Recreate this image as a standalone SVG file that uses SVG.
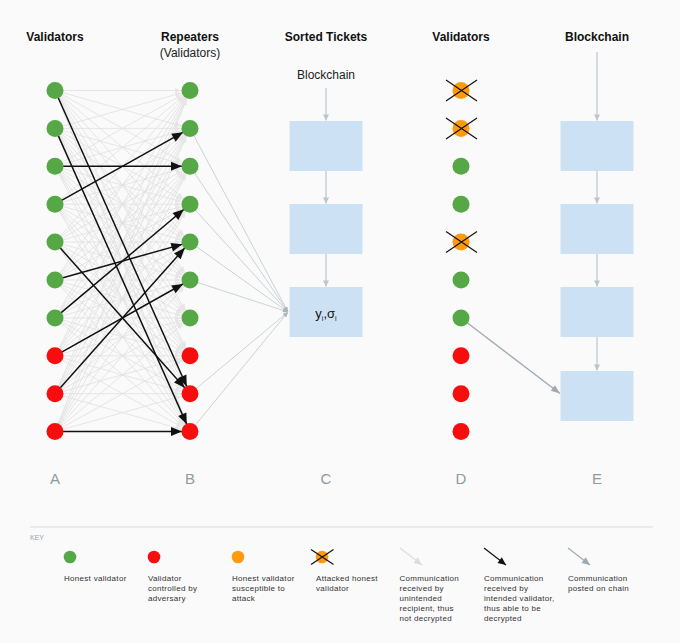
<svg xmlns="http://www.w3.org/2000/svg" width="680" height="643" viewBox="0 0 680 643">
<style>
text{font-family:"Liberation Sans",Arial,sans-serif}
.h{font-size:12px;font-weight:bold;fill:#111;text-anchor:middle}
.sub{font-size:12px;fill:#222;text-anchor:middle}
.lab{font-size:15px;fill:#8e9aa2;text-anchor:middle}
.k{font-size:8px;fill:#333;letter-spacing:0.3px}
.g{fill:#56a847}.r{fill:#f70d0d}.o{fill:#fd9a0e}
.box{fill:#cde1f4}
.mesh line{stroke:#e0e0e0;stroke-width:0.8;marker-end:url(#am)}
.blk line{stroke:#111;stroke-width:1.5;marker-end:url(#ab)}
.toc line{stroke:#bfc8cd;stroke-width:0.8;marker-end:url(#ac)}
.chain{stroke:#b8c6cf;stroke-width:1.2;marker-end:url(#ach)}
.x{stroke:#111;stroke-width:1.2}
</style>
<defs>
<marker id="am" markerUnits="userSpaceOnUse" markerWidth="6" markerHeight="5" refX="15" refY="2.5" orient="auto" overflow="visible"><path d="M0,0L6,2.5L0,5z" fill="#e6e6e6"/></marker>
<marker id="ab" markerUnits="userSpaceOnUse" markerWidth="11" markerHeight="9" refX="19" refY="4.5" orient="auto" overflow="visible"><path d="M0,0L11,4.5L0,9z" fill="#111"/></marker>
<marker id="ac" markerUnits="userSpaceOnUse" markerWidth="5" markerHeight="4" refX="5" refY="2" orient="auto" overflow="visible"><path d="M0,0L5,2L0,4z" fill="#aab5bb"/></marker>
<marker id="ach" markerUnits="userSpaceOnUse" markerWidth="6" markerHeight="6" refX="6" refY="3" orient="auto" overflow="visible"><path d="M0,0L6,3L0,6z" fill="#b8c6cf"/></marker>
<marker id="ad" markerUnits="userSpaceOnUse" markerWidth="9" markerHeight="7" refX="9" refY="3.5" orient="auto" overflow="visible"><path d="M0,0L9,3.5L0,7z" fill="#9eabb2"/></marker>
<marker id="kl" markerUnits="userSpaceOnUse" markerWidth="8" markerHeight="7" refX="8" refY="3.5" orient="auto" overflow="visible"><path d="M0,0L8,3.5L0,7z" fill="#dcdcdc"/></marker>
<marker id="kb" markerUnits="userSpaceOnUse" markerWidth="8" markerHeight="7" refX="8" refY="3.5" orient="auto" overflow="visible"><path d="M0,0L8,3.5L0,7z" fill="#111"/></marker>
<marker id="kg" markerUnits="userSpaceOnUse" markerWidth="8" markerHeight="7" refX="8" refY="3.5" orient="auto" overflow="visible"><path d="M0,0L8,3.5L0,7z" fill="#9eabb2"/></marker>
</defs>
<rect width="680" height="643" fill="#fafafa"/>

<g id="headers">
<text class="h" x="55" y="41">Validators</text>
<text class="h" x="190" y="41">Repeaters</text>
<text class="sub" x="190" y="57">(Validators)</text>
<text class="h" x="326" y="41">Sorted Tickets</text>
<text class="h" x="461" y="41">Validators</text>
<text class="h" x="597" y="41">Blockchain</text>
</g>

<g id="connectors">
<g class="mesh">
<line x1="55" y1="90.5" x2="190" y2="90.5"/><line x1="55" y1="90.5" x2="190" y2="128.4"/><line x1="55" y1="90.5" x2="190" y2="166.3"/><line x1="55" y1="90.5" x2="190" y2="204.2"/><line x1="55" y1="90.5" x2="190" y2="242.1"/><line x1="55" y1="90.5" x2="190" y2="280"/><line x1="55" y1="90.5" x2="190" y2="317.9"/><line x1="55" y1="90.5" x2="190" y2="355.8"/><line x1="55" y1="90.5" x2="190" y2="431.6"/>
<line x1="55" y1="128.4" x2="190" y2="90.5"/><line x1="55" y1="128.4" x2="190" y2="128.4"/><line x1="55" y1="128.4" x2="190" y2="166.3"/><line x1="55" y1="128.4" x2="190" y2="204.2"/><line x1="55" y1="128.4" x2="190" y2="242.1"/><line x1="55" y1="128.4" x2="190" y2="280"/><line x1="55" y1="128.4" x2="190" y2="317.9"/><line x1="55" y1="128.4" x2="190" y2="355.8"/><line x1="55" y1="128.4" x2="190" y2="393.7"/>
<line x1="55" y1="166.3" x2="190" y2="90.5"/><line x1="55" y1="166.3" x2="190" y2="128.4"/><line x1="55" y1="166.3" x2="190" y2="204.2"/><line x1="55" y1="166.3" x2="190" y2="242.1"/><line x1="55" y1="166.3" x2="190" y2="280"/><line x1="55" y1="166.3" x2="190" y2="317.9"/><line x1="55" y1="166.3" x2="190" y2="355.8"/><line x1="55" y1="166.3" x2="190" y2="393.7"/><line x1="55" y1="166.3" x2="190" y2="431.6"/>
<line x1="55" y1="204.2" x2="190" y2="90.5"/><line x1="55" y1="204.2" x2="190" y2="166.3"/><line x1="55" y1="204.2" x2="190" y2="204.2"/><line x1="55" y1="204.2" x2="190" y2="242.1"/><line x1="55" y1="204.2" x2="190" y2="280"/><line x1="55" y1="204.2" x2="190" y2="317.9"/><line x1="55" y1="204.2" x2="190" y2="355.8"/><line x1="55" y1="204.2" x2="190" y2="393.7"/><line x1="55" y1="204.2" x2="190" y2="431.6"/>
<line x1="55" y1="242.1" x2="190" y2="90.5"/><line x1="55" y1="242.1" x2="190" y2="128.4"/><line x1="55" y1="242.1" x2="190" y2="166.3"/><line x1="55" y1="242.1" x2="190" y2="204.2"/><line x1="55" y1="242.1" x2="190" y2="242.1"/><line x1="55" y1="242.1" x2="190" y2="280"/><line x1="55" y1="242.1" x2="190" y2="317.9"/><line x1="55" y1="242.1" x2="190" y2="355.8"/><line x1="55" y1="242.1" x2="190" y2="431.6"/>
<line x1="55" y1="280" x2="190" y2="90.5"/><line x1="55" y1="280" x2="190" y2="128.4"/><line x1="55" y1="280" x2="190" y2="166.3"/><line x1="55" y1="280" x2="190" y2="204.2"/><line x1="55" y1="280" x2="190" y2="280"/><line x1="55" y1="280" x2="190" y2="317.9"/><line x1="55" y1="280" x2="190" y2="355.8"/><line x1="55" y1="280" x2="190" y2="393.7"/><line x1="55" y1="280" x2="190" y2="431.6"/>
<line x1="55" y1="317.9" x2="190" y2="90.5"/><line x1="55" y1="317.9" x2="190" y2="128.4"/><line x1="55" y1="317.9" x2="190" y2="166.3"/><line x1="55" y1="317.9" x2="190" y2="242.1"/><line x1="55" y1="317.9" x2="190" y2="280"/><line x1="55" y1="317.9" x2="190" y2="317.9"/><line x1="55" y1="317.9" x2="190" y2="355.8"/><line x1="55" y1="317.9" x2="190" y2="393.7"/><line x1="55" y1="317.9" x2="190" y2="431.6"/>
<line x1="55" y1="355.8" x2="190" y2="90.5"/><line x1="55" y1="355.8" x2="190" y2="128.4"/><line x1="55" y1="355.8" x2="190" y2="166.3"/><line x1="55" y1="355.8" x2="190" y2="204.2"/><line x1="55" y1="355.8" x2="190" y2="242.1"/><line x1="55" y1="355.8" x2="190" y2="317.9"/><line x1="55" y1="355.8" x2="190" y2="355.8"/><line x1="55" y1="355.8" x2="190" y2="393.7"/><line x1="55" y1="355.8" x2="190" y2="431.6"/>
<line x1="55" y1="393.7" x2="190" y2="90.5"/><line x1="55" y1="393.7" x2="190" y2="128.4"/><line x1="55" y1="393.7" x2="190" y2="166.3"/><line x1="55" y1="393.7" x2="190" y2="204.2"/><line x1="55" y1="393.7" x2="190" y2="280"/><line x1="55" y1="393.7" x2="190" y2="317.9"/><line x1="55" y1="393.7" x2="190" y2="355.8"/><line x1="55" y1="393.7" x2="190" y2="393.7"/><line x1="55" y1="393.7" x2="190" y2="431.6"/>
<line x1="55" y1="431.6" x2="190" y2="90.5"/><line x1="55" y1="431.6" x2="190" y2="128.4"/><line x1="55" y1="431.6" x2="190" y2="166.3"/><line x1="55" y1="431.6" x2="190" y2="204.2"/><line x1="55" y1="431.6" x2="190" y2="242.1"/><line x1="55" y1="431.6" x2="190" y2="280"/><line x1="55" y1="431.6" x2="190" y2="317.9"/><line x1="55" y1="431.6" x2="190" y2="355.8"/><line x1="55" y1="431.6" x2="190" y2="393.7"/>
</g>
<g class="toc">
<line x1="190" y1="128.4" x2="288" y2="312"/><line x1="190" y1="166.3" x2="288" y2="312"/><line x1="190" y1="204.2" x2="288" y2="312"/><line x1="190" y1="242.1" x2="288" y2="312"/><line x1="190" y1="280" x2="288" y2="312"/><line x1="190" y1="393.7" x2="288" y2="312"/><line x1="190" y1="431.6" x2="288" y2="312"/>
</g>
<g class="blk">
<line x1="55" y1="90.5" x2="190" y2="393.7"/>
<line x1="55" y1="128.4" x2="190" y2="431.6"/>
<line x1="55" y1="166.3" x2="190" y2="166.3"/>
<line x1="55" y1="204.2" x2="190" y2="128.4"/>
<line x1="55" y1="242.1" x2="190" y2="393.7"/>
<line x1="55" y1="280" x2="190" y2="242.1"/>
<line x1="55" y1="317.9" x2="190" y2="204.2"/>
<line x1="55" y1="355.8" x2="190" y2="280"/>
<line x1="55" y1="393.7" x2="190" y2="242.1"/>
<line x1="55" y1="431.6" x2="190" y2="431.6"/>
</g>
<line class="chain" x1="326" y1="88" x2="326" y2="120.5"/>
<line class="chain" x1="326" y1="171" x2="326" y2="203.5"/>
<line class="chain" x1="326" y1="254" x2="326" y2="286.5"/>
<line class="chain" x1="597" y1="52" x2="597" y2="120.5"/>
<line class="chain" x1="597" y1="171" x2="597" y2="203.5"/>
<line class="chain" x1="597" y1="254" x2="597" y2="286.5"/>
<line class="chain" x1="597" y1="337" x2="597" y2="370.5"/>
<line x1="467.5" y1="323" x2="560" y2="393.5" stroke="#9eabb2" stroke-width="1.3" marker-end="url(#ad)"/>
</g>

<g id="colA">
<circle id="A1" class="g" cx="55" cy="90.5" r="8.5"/>
<circle id="A2" class="g" cx="55" cy="128.4" r="8.5"/>
<circle id="A3" class="g" cx="55" cy="166.3" r="8.5"/>
<circle id="A4" class="g" cx="55" cy="204.2" r="8.5"/>
<circle id="A5" class="g" cx="55" cy="242.1" r="8.5"/>
<circle id="A6" class="g" cx="55" cy="280" r="8.5"/>
<circle id="A7" class="g" cx="55" cy="317.9" r="8.5"/>
<circle id="A8" class="r" cx="55" cy="355.8" r="8.5"/>
<circle id="A9" class="r" cx="55" cy="393.7" r="8.5"/>
<circle id="A10" class="r" cx="55" cy="431.6" r="8.5"/>
</g>
<g id="colB">
<circle id="B1" class="g" cx="190" cy="90.5" r="8.5"/>
<circle id="B2" class="g" cx="190" cy="128.4" r="8.5"/>
<circle id="B3" class="g" cx="190" cy="166.3" r="8.5"/>
<circle id="B4" class="g" cx="190" cy="204.2" r="8.5"/>
<circle id="B5" class="g" cx="190" cy="242.1" r="8.5"/>
<circle id="B6" class="g" cx="190" cy="280" r="8.5"/>
<circle id="B7" class="g" cx="190" cy="317.9" r="8.5"/>
<circle id="B8" class="r" cx="190" cy="355.8" r="8.5"/>
<circle id="B9" class="r" cx="190" cy="393.7" r="8.5"/>
<circle id="B10" class="r" cx="190" cy="431.6" r="8.5"/>
</g>
<g id="colC">
<text class="sub" x="326" y="79">Blockchain</text>
<rect id="C1" class="box" x="289.5" y="121" width="73" height="50"/>
<rect id="C2" class="box" x="289.5" y="204" width="73" height="50"/>
<g id="C3"><rect class="box" x="289.5" y="287" width="73" height="50"/>
<text x="326" y="318" font-size="13" fill="#111" text-anchor="middle">y<tspan font-size="7" dy="2.5">i</tspan><tspan dy="-2.5">,σ</tspan><tspan font-size="7" dy="2.5">i</tspan></text></g>
</g>
<g id="colD">
<g id="D1"><circle class="o" cx="461" cy="90.5" r="8.5"/><path class="x" d="M446,80L477,101M446,101L477,80"/></g>
<g id="D2"><circle class="o" cx="461" cy="128.4" r="8.5"/><path class="x" d="M446,118L477,139M446,139L477,118"/></g>
<circle id="D3" class="g" cx="461" cy="166.3" r="8.5"/>
<circle id="D4" class="g" cx="461" cy="204.2" r="8.5"/>
<g id="D5"><circle class="o" cx="461" cy="242.1" r="8.5"/><path class="x" d="M446,231.6L477,252.6M446,252.6L477,231.6"/></g>
<circle id="D6" class="g" cx="461" cy="280" r="8.5"/>
<circle id="D7" class="g" cx="461" cy="317.9" r="8.5"/>
<circle id="D8" class="r" cx="461" cy="355.8" r="8.5"/>
<circle id="D9" class="r" cx="461" cy="393.7" r="8.5"/>
<circle id="D10" class="r" cx="461" cy="431.6" r="8.5"/>
</g>
<g id="colE">
<rect id="E1" class="box" x="560.5" y="121" width="73" height="50"/>
<rect id="E2" class="box" x="560.5" y="204" width="73" height="50"/>
<rect id="E3" class="box" x="560.5" y="287" width="73" height="50"/>
<rect id="E4" class="box" x="560.5" y="371" width="73" height="50"/>
</g>

<g id="labels">
<text class="lab" x="55" y="484">A</text>
<text class="lab" x="190" y="484">B</text>
<text class="lab" x="326" y="484">C</text>
<text class="lab" x="461" y="484">D</text>
<text class="lab" x="597" y="484">E</text>
</g>

<g id="key">
<line x1="30" y1="527" x2="653" y2="527" stroke="#e6e6e6" stroke-width="1.5"/>
<text x="30" y="540" font-size="7" fill="#9aa3a8">KEY</text>
<circle class="g" cx="70" cy="557" r="6.3"/>
<text class="k" x="64" y="580.5">Honest validator</text>
<circle class="r" cx="154" cy="557" r="6.3"/>
<text class="k" x="148" y="580.5">Validator<tspan x="148" dy="10">controlled by</tspan><tspan x="148" dy="10">adversary</tspan></text>
<circle class="o" cx="238" cy="557" r="6.3"/>
<text class="k" x="232" y="580.5">Honest validator<tspan x="232" dy="10">susceptible to</tspan><tspan x="232" dy="10">attack</tspan></text>
<circle class="o" cx="322" cy="557" r="6.3"/>
<path class="x" d="M311,549.5L333.5,564.5M311,564.5L333.5,549.5" stroke-width="1"/>
<text class="k" x="316" y="580.5">Attacked honest<tspan x="316" dy="10">validator</tspan></text>
<line x1="400" y1="548" x2="422" y2="565" stroke="#dcdcdc" stroke-width="1.2" marker-end="url(#kl)"/>
<text class="k" x="399.5" y="580.5">Communication<tspan x="399.5" dy="10">received by</tspan><tspan x="399.5" dy="10">unintended</tspan><tspan x="399.5" dy="10">recipient, thus</tspan><tspan x="399.5" dy="10">not decrypted</tspan></text>
<line x1="484" y1="548" x2="506" y2="565" stroke="#111" stroke-width="1.2" marker-end="url(#kb)"/>
<text class="k" x="484" y="580.5">Communication<tspan x="484" dy="10">received by</tspan><tspan x="484" dy="10">intended validator,</tspan><tspan x="484" dy="10">thus able to be</tspan><tspan x="484" dy="10">decrypted</tspan></text>
<line x1="568" y1="548" x2="590" y2="565" stroke="#9eabb2" stroke-width="1.2" marker-end="url(#kg)"/>
<text class="k" x="568" y="580.5">Communication<tspan x="568" dy="10">posted on chain</tspan></text>
</g>
</svg>
